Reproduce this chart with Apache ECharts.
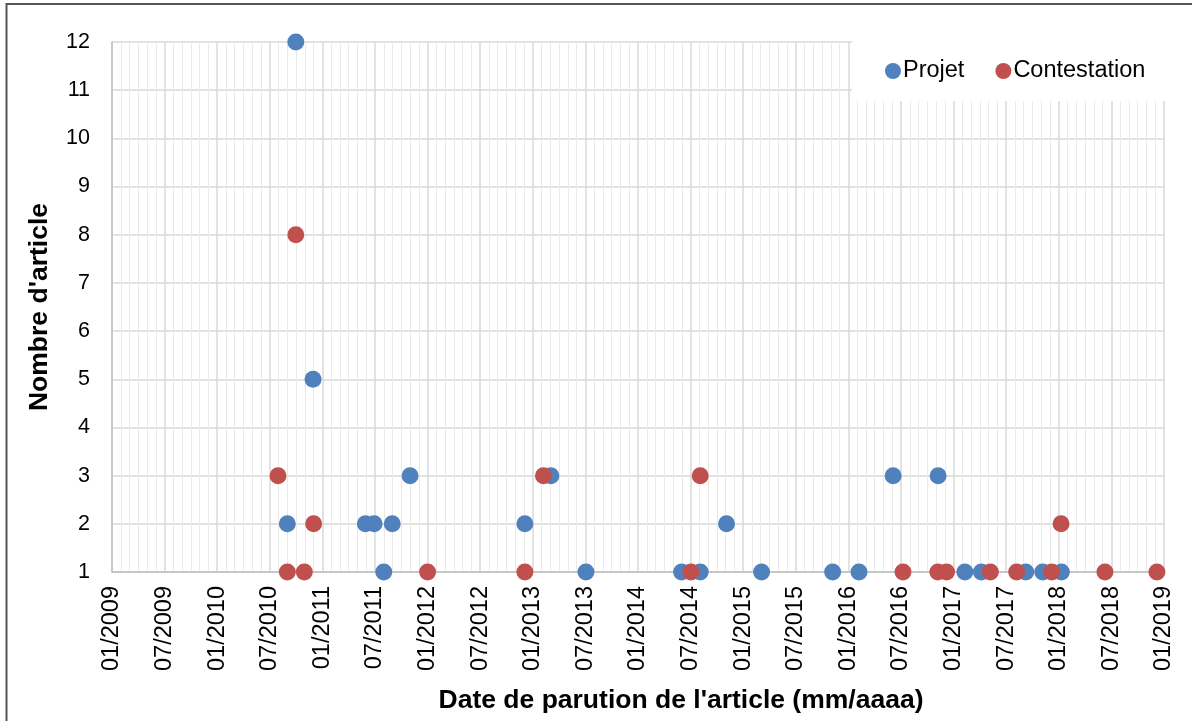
<!DOCTYPE html>
<html>
<head>
<meta charset="utf-8">
<script src="https://cdn.jsdelivr.net/npm/echarts@6/dist/echarts.min.js"></script>
<style>
html,body{margin:0;padding:0;background:#fff;}
#chart{width:1192px;height:721px;}
</style>
</head>
<body>
<div id="chart"></div>
<script>
// ---- Data ----
const seriesNames = ['Projet', 'Contestation'];
const projetDates = ['2010-09-01','2010-09-30','2010-11-29','2011-05-29','2011-06-28','2011-08-01','2011-08-31','2011-11-01',
  '2012-12-04','2013-03-03','2013-07-03','2014-05-31','2014-08-04','2014-11-04','2015-03-04','2015-11-07',
  '2016-02-07','2016-06-04','2016-11-08','2017-02-09','2017-04-06','2017-09-08','2017-11-06','2018-01-10'];
const projetCounts = [2,12,5,2,2,1,2,3, 2,3,1,1,1,2,1,1, 1,3,3,1,1,1,1,1];
const contestationDates = ['2010-07-30','2010-09-01','2010-09-30','2010-10-30','2010-12-01','2012-01-01','2012-12-04',
  '2013-02-07','2014-07-02','2014-08-04','2016-07-08','2016-11-07','2016-12-07','2017-05-07','2017-08-07',
  '2017-12-07','2018-01-09','2018-06-09','2018-12-07'];
const contestationCounts = [3,1,8,1,2,1,1, 3,1,3,1,1,1,1,1, 1,2,1,1];
const axisStartYear = 2009;   // x axis: 01/2009 .. 01/2019, ticks every 6 months
const axisMonths = 120;
const yMin = 1, yMax = 12;
const xTitle = "Date de parution de l'article (mm/aaaa)";
const yTitle = "Nombre d'article";

// date string -> fractional month index from 01/2009
function toMonth(s){
  const [y,m,d] = s.split('-').map(Number);
  const dim = new Date(y, m, 0).getDate();
  return (y-axisStartYear)*12 + (m-1) + (d-1)/dim;
}
function monthLabel(v){
  const y = axisStartYear + Math.floor(v/12);
  const m = (v % 12) + 1;
  return (m<10?'0':'') + m + '/' + y;
}
const projetData = projetDates.map((d,i)=>[toMonth(d), projetCounts[i]]);
const contestationData = contestationDates.map((d,i)=>[toMonth(d), contestationCounts[i]]);

const FONT = 'Liberation Sans, Arial, sans-serif';
const chart = echarts.init(document.getElementById('chart'), null, {renderer:'canvas'});
chart.setOption({
  animation:false,
  backgroundColor:'#fff',
  grid:{left:112, right:28, top:42, bottom:149, containLabel:false},
  xAxis:{
    type:'value', min:0, max:axisMonths, interval:6,
    axisLine:{show:true, onZero:false, lineStyle:{color:'#bfbfbf', width:1.5}},
    axisTick:{show:false},
    axisLabel:{rotate:90, margin:14, color:'#000', fontFamily:FONT, fontSize:23.5, formatter:monthLabel, showMinLabel:true, showMaxLabel:true},
    splitLine:{show:true, lineStyle:{color:'#d9d9d9', width:1.5}},
    minorTick:{show:false, splitNumber:6},
    minorSplitLine:{show:true, lineStyle:{color:'#e9e9e9', width:1}}
  },
  yAxis:{
    type:'value', min:yMin, max:yMax, interval:1,
    name:yTitle, nameLocation:'middle', nameGap:59,
    nameTextStyle:{color:'#000', fontFamily:FONT, fontSize:26.5, fontWeight:'bold'},
    axisLine:{show:true, lineStyle:{color:'#bfbfbf', width:1.5}},
    axisTick:{show:false},
    axisLabel:{margin:22, color:'#000', fontFamily:FONT, fontSize:21.5},
    splitLine:{show:true, lineStyle:{color:'#d9d9d9', width:1.5}}
  },
  legend:{
    left:852, top:39,
    data:seriesNames,
    icon:'circle', itemWidth:16, itemHeight:16, itemGap:31,
    backgroundColor:'#fff',
    padding:[20,22,18,33],
    textStyle:{color:'#000', fontFamily:FONT, fontSize:23.5, padding:[0,0,0,-3]}
  },
  graphic:[
    {type:'text', x:681, y:701, style:{text:xTitle, fill:'#000', font:'bold 26.5px '+FONT, textAlign:'center', textVerticalAlign:'middle'}, z:10},
    {type:'rect', shape:{x:6.5, y:4, width:1300, height:900}, style:{fill:null, stroke:'#555', lineWidth:2}, z:100, silent:true}
  ],
  series:[
    {name:seriesNames[0], type:'scatter', data:projetData, symbol:'circle', symbolSize:17, itemStyle:{color:'#4f81bd', opacity:1}, z:3},
    {name:seriesNames[1], type:'scatter', data:contestationData, symbol:'circle', symbolSize:17, itemStyle:{color:'#c0504d', opacity:1}, z:4}
  ]
});
</script>
</body>
</html>
